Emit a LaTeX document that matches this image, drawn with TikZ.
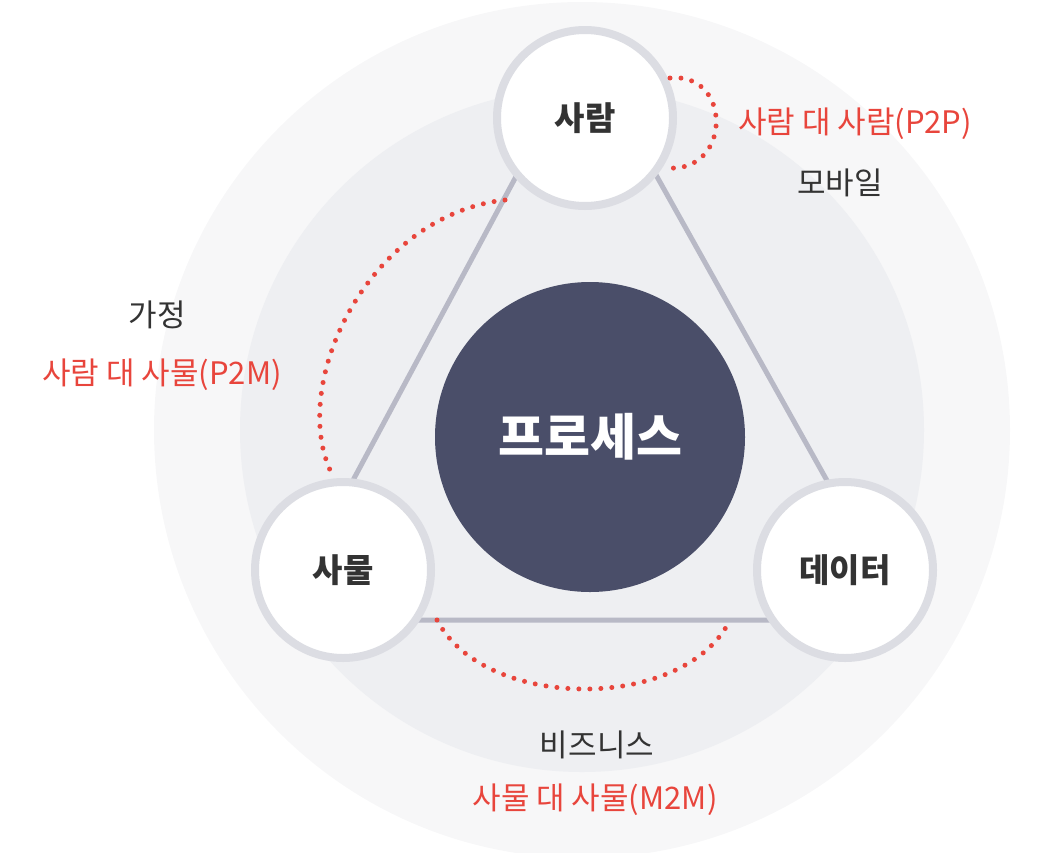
\documentclass[tikz,border=0pt]{standalone}
\usepackage{fontspec}
\newfontfamily\kr{Noto Sans CJK KR}
\definecolor{outerc}{HTML}{F7F7F8}
\definecolor{innerc}{HTML}{EEEFF2}
\definecolor{darkc}{HTML}{4A4E69}
\definecolor{ringc}{HTML}{DCDDE3}
\definecolor{linec}{HTML}{B8B9C6}
\definecolor{redc}{HTML}{E8453C}
\definecolor{txtc}{HTML}{333333}
\begin{document}
\begin{tikzpicture}[x=1pt,y=-1pt,
  small/.style={circle,fill=white,draw=ringc,line width=8pt,minimum size=176pt,inner sep=0,font=\kr\fontsize{33}{36}\selectfont\bfseries,text=txtc},
  lbl/.style={font=\kr\fontsize{31}{34}\selectfont,text=txtc},
  rlbl/.style={font=\kr\fontsize{31}{34}\selectfont,text=redc},
  dots/.style={draw=redc,line width=5pt,line cap=round,dash pattern=on 0pt off 11pt},
  tri/.style={draw=linec,line width=5pt,line join=round}]
\useasboundingbox (0,0) rectangle (1060,852);
\fill[outerc] (582,430) circle (428);
\fill[innerc] (582,430) circle (342);
\coordinate (v1) at (585,48);
\coordinate (v2) at (278,620);
\coordinate (v3) at (905,620);
\draw[tri] (v1) -- (v2) -- (v3) -- cycle;
\node[circle,fill=darkc,minimum size=310pt,inner sep=0,text=white,font=\kr\fontsize{50}{54}\selectfont\bfseries] (proc) at (590,437) {프로세스};
\node[small] (p) at (585,118) {사람};
\node[small] (t) at (343,570) {사물};
\node[small] (d) at (845,570) {데이터};
\coordinate (a1) at (670,78); \coordinate (a2) at (668,168);
\draw[dots] (a1) .. controls (732,72) and (732,172) .. (a2);
\coordinate (b1) at (505,200); \coordinate (b2) at (330,470);
\draw[dots] (b1) .. controls (370,215) and (290,380) .. (b2);
\coordinate (c1) at (437,620); \coordinate (c2) at (730,620);
\draw[dots] (c1) .. controls (485,712) and (685,712) .. (c2);
\node[rlbl] (l1) at (855,124) {사람 대 사람(P2P)};
\node[lbl] (l2) at (840,183) {모바일};
\node[lbl] (l3) at (157,315) {가정};
\node[rlbl] (l4) at (162,375) {사람 대 사물(P2M)};
\node[lbl] (l5) at (597,745) {비즈니스};
\node[rlbl] (l6) at (595,800) {사물 대 사물(M2M)};
\end{tikzpicture}
\end{document}
